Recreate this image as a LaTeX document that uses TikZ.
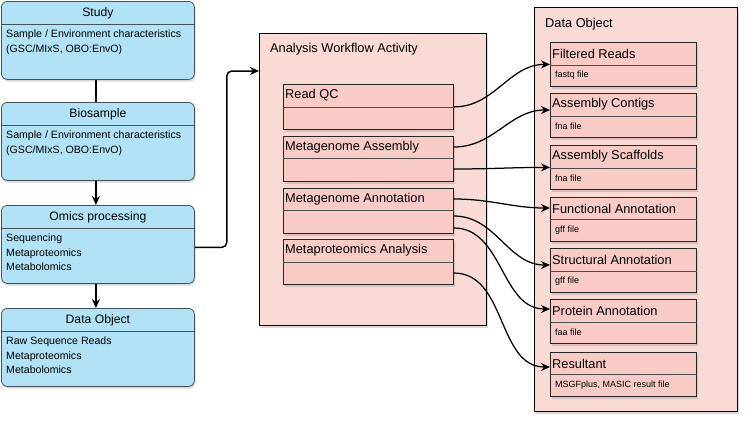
\documentclass[tikz,border=0pt]{standalone}
\usepackage{fontspec}
\setmainfont{Liberation Sans}
\usetikzlibrary{arrows.meta,positioning,shadows}
\definecolor{bluefill}{RGB}{178,226,246}
\definecolor{bluedraw}{RGB}{70,82,88}
\definecolor{pinkbg}{RGB}{250,218,213}
\definecolor{pinkbox}{RGB}{248,203,199}

\begin{document}
\begin{tikzpicture}[x=1pt, y=-1pt,
  shadowed/.style={drop shadow={shadow xshift=1.2pt, shadow yshift=-2.2pt, opacity=0.3}},
  entity/.style={draw=bluedraw, line width=0.8pt, fill=bluefill, rounded corners=6pt, anchor=north west,
    minimum width=193pt, minimum height=78pt, inner sep=0pt, shadowed},
  entityhead/.style={font=\fontsize{12.2}{14}\selectfont, inner sep=0pt},
  entitybody/.style={font=\fontsize{10.6}{14.5}\selectfont, align=left, anchor=north west, inner sep=0pt},
  panel/.style={draw=black, line width=1pt, fill=pinkbg, anchor=north west, inner sep=0pt, shadowed},
  paneltitle/.style={font=\fontsize{12.8}{15}\selectfont, anchor=west, inner sep=0pt},
  workbox/.style={draw=black!85, line width=0.8pt, fill=pinkbox, anchor=north west, minimum width=170pt,
    minimum height=45pt, inner sep=0pt, shadowed},
  filebox/.style={workbox, minimum width=146pt, minimum height=44pt},
  boxhead/.style={font=\fontsize{12.8}{15}\selectfont, anchor=west, inner sep=0pt},
  filetext/.style={font=\fontsize{9}{10}\selectfont, anchor=west, inner sep=0pt},
  divider/.style={draw=black!70, line width=0.7pt},
  arr/.style={-{Stealth[length=9pt, width=8pt]}, line width=1.5pt},
  link/.style={-{Stealth[length=9pt, width=8pt]}, line width=1.25pt, out=0, in=180}]
\useasboundingbox (0,0) rectangle (747,424);

% metadata chain
\node[entity] (study) at (1,1) {};
\node[entityhead] at ([yshift=-12pt]study.north) {Study};
\draw[bluedraw] ([yshift=-23pt]study.north west) -- ([yshift=-23pt]study.north east);
\node[entitybody] at ([xshift=5pt, yshift=-29pt]study.north west) {Sample / Environment characteristics\\(GSC/MIxS, OBO:EnvO)};

\node[entity] (biosample) at (1,102) {};
\node[entityhead] at ([yshift=-12pt]biosample.north) {Biosample};
\draw[bluedraw] ([yshift=-23pt]biosample.north west) -- ([yshift=-23pt]biosample.north east);
\node[entitybody] at ([xshift=5pt, yshift=-29pt]biosample.north west) {Sample / Environment characteristics\\(GSC/MIxS, OBO:EnvO)};

\node[entity] (omics) at (1,205) {};
\node[entityhead] at ([yshift=-12pt]omics.north) {Omics processing};
\draw[bluedraw] ([yshift=-23pt]omics.north west) -- ([yshift=-23pt]omics.north east);
\node[entitybody] at ([xshift=5pt, yshift=-29pt]omics.north west) {Sequencing\\Metaproteomics\\Metabolomics};

\node[entity] (rawdata) at (1,308) {};
\node[entityhead] at ([yshift=-12pt]rawdata.north) {Data Object};
\draw[bluedraw] ([yshift=-23pt]rawdata.north west) -- ([yshift=-23pt]rawdata.north east);
\node[entitybody] at ([xshift=5pt, yshift=-29pt]rawdata.north west) {Raw Sequence Reads\\Metaproteomics\\Metabolomics};

\draw[line width=1.5pt] ([xshift=-2pt]study.south) -- ([xshift=-2pt]biosample.north);
\draw[arr] ([xshift=-2pt]biosample.south) -- ([xshift=-2pt]omics.north);
\draw[arr] ([xshift=-2pt]omics.south) -- ([xshift=-2pt]rawdata.north);

% workflow activities
\node[panel, minimum width=227pt, minimum height=292pt] (activity) at (259,33) {};
\node[paneltitle] at ([xshift=11pt, yshift=-16pt]activity.north west) {Analysis Workflow Activity};

\node[workbox] (qc) at (283,84) {};
\draw[divider] ([yshift=-23pt]qc.north west) -- ([yshift=-23pt]qc.north east);
\node[boxhead] at ([xshift=2pt, yshift=-11.5pt]qc.north west) {Read QC};

\node[workbox] (asm) at (283,136) {};
\draw[divider] ([yshift=-22pt]asm.north west) -- ([yshift=-22pt]asm.north east);
\node[boxhead] at ([xshift=2pt, yshift=-11.5pt]asm.north west) {Metagenome Assembly};

\node[workbox] (ann) at (283,188) {};
\draw[divider] ([yshift=-22pt]ann.north west) -- ([yshift=-22pt]ann.north east);
\node[boxhead] at ([xshift=2pt, yshift=-11.5pt]ann.north west) {Metagenome Annotation};

\node[workbox] (prot) at (283,239) {};
\draw[divider] ([yshift=-23pt]prot.north west) -- ([yshift=-23pt]prot.north east);
\node[boxhead] at ([xshift=2pt, yshift=-11.5pt]prot.north west) {Metaproteomics Analysis};

\draw[arr, rounded corners=5pt] ([yshift=-3pt]omics.east) -- ++(32,0) |- ([yshift=-38pt]activity.north west);

% output data objects
\node[panel, minimum width=203pt, minimum height=404pt] (outputs) at (534,7) {};
\node[paneltitle] at ([xshift=11pt, yshift=-17pt]outputs.north west) {Data Object};

\node[filebox] (reads) at (550,42) {};
\draw[divider] ([yshift=-23pt]reads.north west) -- ([yshift=-23pt]reads.north east);
\node[boxhead] at ([xshift=2pt, yshift=-11.5pt]reads.north west) {Filtered Reads};
\node[filetext] at ([xshift=5pt, yshift=-33pt]reads.north west) {fastq file};

\node[filebox] (contigs) at (550,93) {};
\draw[divider] ([yshift=-23pt]contigs.north west) -- ([yshift=-23pt]contigs.north east);
\node[boxhead] at ([xshift=2pt, yshift=-11.5pt]contigs.north west) {Assembly Contigs};
\node[filetext] at ([xshift=5pt, yshift=-33pt]contigs.north west) {fna file};

\node[filebox] (scaffolds) at (550,145) {};
\draw[divider] ([yshift=-23pt]scaffolds.north west) -- ([yshift=-23pt]scaffolds.north east);
\node[boxhead] at ([xshift=2pt, yshift=-11.5pt]scaffolds.north west) {Assembly Scaffolds};
\node[filetext] at ([xshift=5pt, yshift=-33pt]scaffolds.north west) {fna file};

\node[filebox] (func) at (550,197) {};
\draw[divider] ([yshift=-22pt]func.north west) -- ([yshift=-22pt]func.north east);
\node[boxhead] at ([xshift=2pt, yshift=-11.5pt]func.north west) {Functional Annotation};
\node[filetext] at ([xshift=5pt, yshift=-33pt]func.north west) {gff file};

\node[filebox] (struct) at (550,248) {};
\draw[divider] ([yshift=-23pt]struct.north west) -- ([yshift=-23pt]struct.north east);
\node[boxhead] at ([xshift=2pt, yshift=-11.5pt]struct.north west) {Structural Annotation};
\node[filetext] at ([xshift=5pt, yshift=-33pt]struct.north west) {gff file};

\node[filebox] (protann) at (550,299) {};
\draw[divider] ([yshift=-23pt]protann.north west) -- ([yshift=-23pt]protann.north east);
\node[boxhead] at ([xshift=2pt, yshift=-11.5pt]protann.north west) {Protein Annotation};
\node[filetext] at ([xshift=5pt, yshift=-33pt]protann.north west) {faa file};

\node[filebox] (result) at (550,352) {};
\draw[divider] ([yshift=-22pt]result.north west) -- ([yshift=-22pt]result.north east);
\node[boxhead] at ([xshift=2pt, yshift=-11.5pt]result.north west) {Resultant};
\node[filetext] at ([xshift=5pt, yshift=-33pt]result.north west) {MSGFplus, MASIC result file};

% workflow outputs
\draw[link] (qc.east) to (reads.west);
\draw[link] ([yshift=-11pt]asm.north east) to ([yshift=-17pt]contigs.north west);
\draw[link] ([yshift=-33pt]asm.north east) to (scaffolds.west);
\draw[link] ([yshift=-11pt]ann.north east) to ([yshift=-11pt]func.north west);
\draw[link] ([yshift=-28pt]ann.north east) to ([yshift=-17pt]struct.north west);
\draw[link] ([yshift=-40pt]ann.north east) to ([yshift=-10pt]protann.north west);
\draw[link] ([yshift=-34pt]prot.north east) to ([yshift=-15pt]result.north west);
\end{tikzpicture}
\end{document}
